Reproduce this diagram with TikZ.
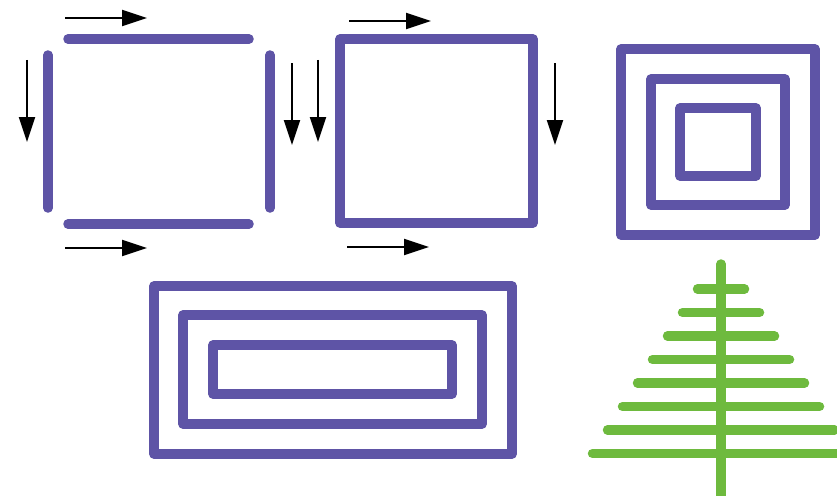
\documentclass[tikz,border=0pt]{standalone}
\usepackage{tikz}
\usetikzlibrary{arrows.meta}
\definecolor{frame}{RGB}{94,84,166}
\definecolor{tree}{RGB}{110,186,62}

\begin{document}
\begin{tikzpicture}[x=1pt,y=-1pt,
    bar/.style={frame, line width=9.5pt, line cap=round},
    box/.style={frame, line width=9.5pt, line join=round},
    twig/.style={tree, line width=9.5pt, line cap=round},
    flow/.style={-{Triangle[length=25pt,width=16pt]}, line width=2pt}]
      \useasboundingbox (0,0) rectangle (837,495);
      % open square
      \foreach \y in {39,224}{
          \draw[bar](68,\y)--(249,\y);
      }
      \foreach \x in {48,270}{
          \draw[bar](\x,55)--(\x,208);
      }
      % closed square
      \draw[box](340,39) rectangle (533,223);
      % arrows
      \foreach \x/\y in {65/18, 65/248, 349/21, 347/247}{
          \draw[flow](\x,\y)--(\x+82,\y);
      }
      \foreach \x/\y in {27/60, 292/63, 318/60, 555/63}{
          \draw[flow](\x,\y)--(\x,\y+82);
      }
      % nested squares
      \foreach \a/\b/\c/\d in {621/49/815/235, 651/79/785/205, 680/108/756/176}{
          \draw[box](\a,\b) rectangle (\c,\d);
      }
      % nested rectangles
      \foreach \a/\b/\c/\d in {154/286/512/454, 183/315/482/424, 213/345/452/394}{
          \draw[box](\a,\b) rectangle (\c,\d);
      }
      % tree
      \draw[twig](721,264)--(721,500);
      \foreach \i in {0,...,7}{
          \draw[twig](721-23.5-15*\i,289+23.5*\i)--(721+23.5+15*\i,289+23.5*\i);
      }
\end{tikzpicture}
\end{document}
